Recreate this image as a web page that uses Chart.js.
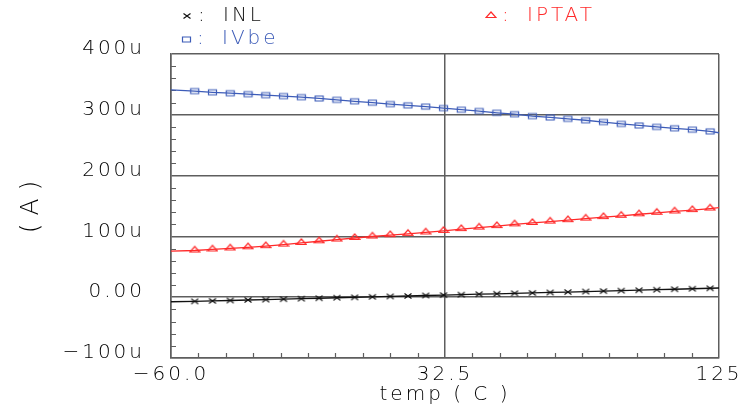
<!DOCTYPE html>
<html>
<head>
<meta charset="utf-8">
<script src="https://cdn.jsdelivr.net/npm/chart.js@4.4.0/dist/chart.umd.min.js"></script>
<style>
  html, body { margin: 0; padding: 0; background: #fff; }
</style>
</head>
<body>
<canvas id="tempChart" width="738" height="415"></canvas>
<script>
// temperature sweep (C) and currents (uA)
const temps = [-60, -52, -46, -40, -34, -28, -22, -16, -10, -4, 2, 8, 14, 20, 26, 32,
  38, 44, 50, 56, 62, 68, 74, 80, 86, 92, 98, 104, 110, 116, 122, 125];
const inl = [-7.5, -6.8, -6.1, -5.4, -4.6, -3.9, -3.2, -2.4, -1.7, -0.9, -0.2, 0.6, 1.3, 2.0, 2.8, 3.5,
  4.2, 4.9, 5.6, 6.4, 7.1, 7.8, 8.5, 9.3, 10.0, 10.8, 11.5, 12.3, 13.1, 13.9, 14.7, 15.1];
const ivbe = [341, 339, 337, 335.5, 334, 332.3, 330.8, 329, 326.9, 324.6, 322.2, 320, 317.6, 315.6, 313.5, 311,
  308.4, 306.2, 303.3, 301, 297.9, 295.6, 293.3, 291, 288.1, 285, 282.5, 280.1, 277.8, 275.6, 272.7, 270.5];
const iptat = [75.7, 76.8, 78.5, 80.2, 82.1, 84, 86.5, 89.2, 92, 94.8, 97.4, 99.8, 102, 104.2, 106.5, 109,
  112, 114.5, 116.9, 119.8, 122.1, 124.4, 126.7, 129.3, 131.8, 133.9, 136.4, 138.8, 141, 143.3, 145.8, 147.3];

const xTicks = [-60, 32.5, 125];
const xTickLabels = ['\u221260.0', '32.5', '125'];
const yTickLabels = ['\u2212100u', '0.00', '100u', '200u', '300u', '400u'];
const yTitle = '( A )';
const xMinorStep = 9.25;
const yMinorStep = 20;

const gridColor = '#5e5e5e';
const textColor = '#000000';
const blue = '#3d5cb8';
const red = '#ff2a2a';
const black = '#111111';
const family = "'DejaVu Sans', sans-serif";
const labelFont = { family, size: 20, weight: '200' };
const spacingPx = '3px';

function marker(w, h, color, draw) {
  const c = document.createElement('canvas');
  c.width = w; c.height = h;
  const g = c.getContext('2d');
  g.strokeStyle = color;
  g.lineWidth = 1.2;
  g.beginPath();
  draw(g);
  g.stroke();
  return c;
}

const crossMark = marker(10, 8, black, g => {
  g.moveTo(1.5, 1.5); g.lineTo(8.5, 6.5);
  g.moveTo(1.5, 6.5); g.lineTo(8.5, 1.5);
});
const squareMark = marker(11, 9, blue, g => g.rect(1.5, 2, 8, 5));
const triMark = marker(12, 12, red, g => {
  g.moveTo(6, 2); g.lineTo(11, 7.5); g.lineTo(1, 7.5); g.closePath();
});

const pts = vals => temps.map((t, i) => ({ x: t, y: vals[i] }));
const endless = ctx => (ctx.dataIndex === 0 || ctx.dataIndex === temps.length - 1) ? 0 : 4;

// wide label spacing, like the plotter font
const spacing = {
  id: 'spacing',
  beforeUpdate(chart) { chart.ctx.letterSpacing = spacingPx; },
  beforeDraw(chart) { chart.ctx.letterSpacing = spacingPx; }
};

// short inward ticks on the left and bottom edges
const minorTicks = {
  id: 'minorTicks',
  beforeDatasetsDraw(chart) {
    const { ctx, chartArea: a, scales: { x, y } } = chart;
    ctx.save();
    ctx.strokeStyle = gridColor;
    ctx.lineWidth = 1.2;
    ctx.beginPath();
    for (let v = y.min + yMinorStep; v < y.max; v += yMinorStep) {
      if (Math.abs(v % 100) < 1e-6) continue;
      const py = Math.round(y.getPixelForValue(v)) + 0.5;
      ctx.moveTo(a.left, py); ctx.lineTo(a.left + 5, py);
    }
    for (let k = 1; x.min + k * xMinorStep < x.max - 1e-6; k++) {
      if (k % 10 === 0) continue;
      const px = Math.round(x.getPixelForValue(x.min + k * xMinorStep)) + 0.5;
      ctx.moveTo(px, a.bottom); ctx.lineTo(px, a.bottom - 5);
    }
    ctx.stroke();
    ctx.restore();
  }
};

// "marker: name" keys above the plot, and the unit label on the left
const keys = {
  id: 'keys',
  afterDraw(chart) {
    const { ctx, chartArea: a } = chart;
    const slots = [[187, 16], [186, 39], [491, 16]];
    ctx.save();
    ctx.letterSpacing = spacingPx;
    ctx.font = `200 ${labelFont.size}px ${family}`;
    ctx.textBaseline = 'middle';
    ctx.textAlign = 'left';
    chart.data.datasets.forEach((ds, i) => {
      const [x, y] = slots[i];
      const img = ds.pointStyle;
      ctx.drawImage(img, Math.round(x - img.width / 2), Math.round(y - img.height / 2));
      ctx.fillStyle = ds.borderColor;
      ctx.fillText(':', x + 11, y);
      ctx.fillText(ds.label, x + 36, y);
    });

    ctx.letterSpacing = '0px';
    ctx.font = `200 25px ${family}`;
    ctx.fillStyle = textColor;
    ctx.textAlign = 'center';
    ctx.translate(31, (a.top + a.bottom) / 2 + 1);
    ctx.rotate(-Math.PI / 2);
    ctx.fillText(yTitle, 0, 0);
    ctx.restore();
  }
};

new Chart(document.getElementById('tempChart'), {
  type: 'line',
  data: {
    datasets: [
      { label: 'INL', data: pts(inl), borderColor: black, borderWidth: 1.3,
        pointStyle: crossMark, pointRadius: endless },
      { label: 'IVbe', data: pts(ivbe), borderColor: blue, borderWidth: 1.3,
        pointStyle: squareMark, pointRadius: endless },
      { label: 'IPTAT', data: pts(iptat), borderColor: red, borderWidth: 1.3,
        pointStyle: triMark, pointRadius: endless }
    ]
  },
  options: {
    responsive: false,
    animation: false,
    devicePixelRatio: 1,
    layout: { padding: { top: 54, right: 19, bottom: 0, left: 0 } },
    plugins: { legend: { display: false }, tooltip: { enabled: false } },
    scales: {
      x: {
        type: 'linear', min: -60, max: 125,
        afterBuildTicks: s => { s.ticks = xTicks.map(v => ({ value: v })); },
        afterFit: s => { s.height = 57; s.paddingLeft = 0; s.paddingRight = 0; },
        ticks: { maxRotation: 0, autoSkip: false, padding: 5, color: textColor, font: labelFont,
          callback: (v, i) => xTickLabels[i] },
        grid: { color: gridColor, lineWidth: 1.5, drawTicks: false },
        border: { color: gridColor, width: 1.5 },
        title: { display: true, text: 'temp ( C )', color: textColor, font: labelFont,
          padding: { top: 0, bottom: 8 } }
      },
      y: {
        min: -100, max: 400,
        afterFit: s => { s.width = 171; s.paddingTop = 0; s.paddingBottom = 0; },
        ticks: { stepSize: 100, padding: 26, labelOffset: -5, color: textColor, font: labelFont,
          callback: (v, i) => yTickLabels[i] },
        grid: { color: gridColor, lineWidth: 1.5, drawTicks: false },
        border: { color: gridColor, width: 1.5 }
      }
    }
  },
  plugins: [spacing, minorTicks, keys]
});
</script>
</body>
</html>
